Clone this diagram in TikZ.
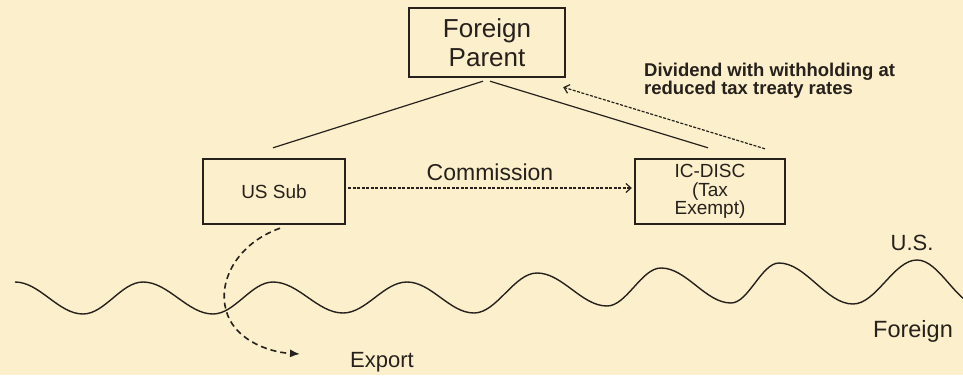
\documentclass[tikz,border=0pt]{standalone}
\usepackage{fontspec}
\setmainfont{Liberation Sans}
\usetikzlibrary{arrows.meta,calc}
\definecolor{bg}{RGB}{252,239,203}
\definecolor{ink}{RGB}{38,33,28}
\tikzset{
  boxnode/.style={draw=ink, line width=2.4pt, align=center, text=ink, inner sep=0pt},
  lbl/.style={text=ink, inner sep=0pt, align=center},
  conn/.style={draw=ink, line width=1.2pt},
  fdash/.style={draw=ink, line width=1.2pt, dash pattern=on 3pt off 1.5pt},
  openhead/.style={-{Straight Barb[length=5pt,width=9pt,line width=1.2pt]}},
}
\begin{document}
\begin{tikzpicture}[x=1pt,y=-1pt]
\fill[bg] (0,0) rectangle (963,375);
\useasboundingbox (0,0) rectangle (963,375);

% boxes
\node[boxnode, minimum width=156pt, minimum height=69pt,
      font=\fontsize{26}{29}\selectfont] (fp) at (487,42.5) {Foreign\\Parent};
\node[boxnode, minimum width=142pt, minimum height=65pt,
      font=\fontsize{19}{22}\selectfont] (us) at (274,191.5) {US Sub};
\node[boxnode, minimum width=150pt, minimum height=65pt,
      font=\fontsize{19}{18.5}\selectfont] (ic) at (710,191.5) {IC-DISC\\(Tax\\Exempt)};

% labels
\node[lbl, font=\fontsize{23}{26}\selectfont] (comm) at (490,172) {Commission};
\node[lbl, anchor=west, align=left, font=\bfseries\fontsize{18.5}{16}\selectfont] (div) at (644,81) {Dividend with withholding at\\reduced tax treaty rates};
\node[lbl, font=\fontsize{22}{24}\selectfont] (exp) at (382,362) {Export};
\node[lbl, font=\fontsize{22}{24}\selectfont] (uslbl) at (912,243) {U.S.};
\node[lbl, font=\fontsize{23.5}{26}\selectfont] (forlbl) at (913,331) {Foreign};

% ownership lines
\draw[conn] ($(fp.south)+(-4,3)$) -- ($(us.north)+(-1,-10)$);
\draw[conn] ($(fp.south)+(3,3)$) -- ($(ic.north)+(-2,-10)$);

% dividend arrow
\draw[fdash, openhead] ($(ic.north)+(55,-9)$) -- ($(fp.south east)+(-3,9)$);

% commission arrow
\draw[fdash, openhead] ($(us.east)+(2,-3.5)$) -- ($(ic.west)+(-2,-3.5)$);

% wave (border)
\begin{scope}
\clip (0,0) rectangle (963,375);
\draw[draw=ink, line width=1.4pt]
 (15,282) cos (49,298) sin (83,314)
 cos (113,298) sin (143,282)
 cos (178,298) sin (213,314)
 cos (243,298) sin (273,282)
 cos (308,297.5) sin (343,313)
 cos (375,297.5) sin (407,282)
 cos (440.5,297.5) sin (474,313)
 cos (505.5,293) sin (537,273)
 cos (572,289.5) sin (607,306)
 cos (634,287) sin (661,268)
 cos (696,285.5) sin (731,303)
 cos (755,283) sin (779,263)
 cos (816,283.5) sin (853,304)
 cos (885,282) sin (917,260)
 cos (948.5,283) sin (980,306);
\end{scope}

% export arrow
\coordinate (exptip) at (300,354);
\draw[draw=ink, line width=1.6pt, dash pattern=on 6pt off 4pt,
      -{Latex[length=10pt,width=8pt]}]
  ($(us.south)+(6,3)$) .. controls (236,244) and (218,282) .. (226,310)
  .. controls (233,338) and (266,352) .. (exptip);
\end{tikzpicture}
\end{document}
